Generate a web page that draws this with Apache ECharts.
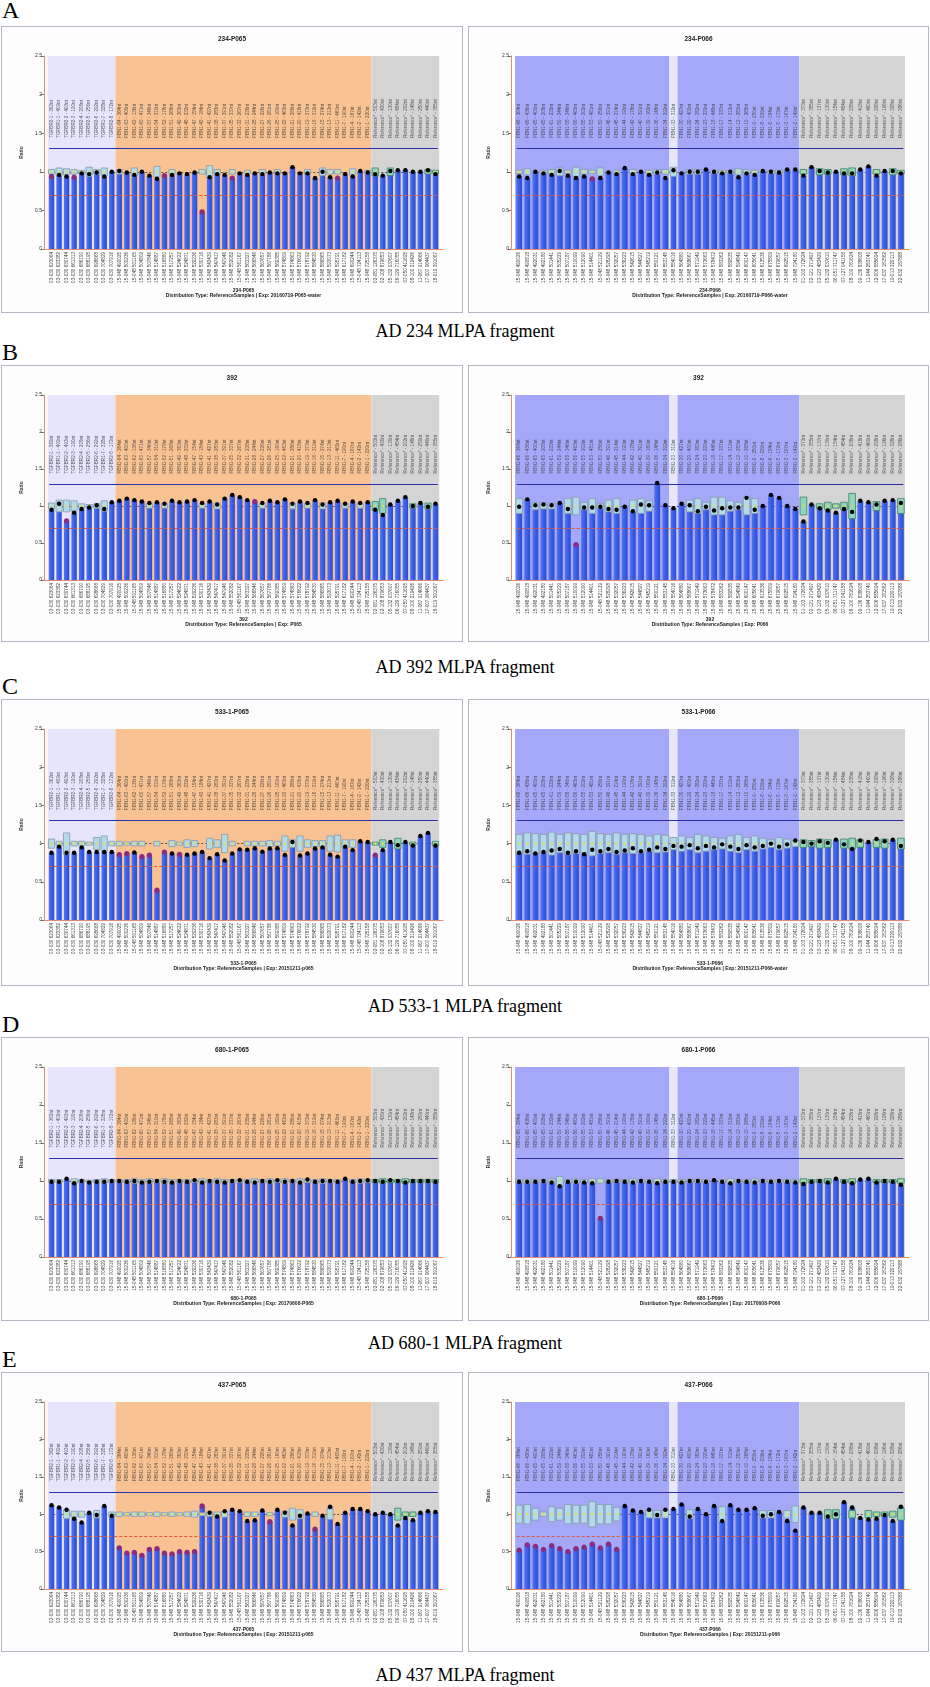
<!DOCTYPE html>
<html>
<head>
<meta charset="utf-8">
<script src="https://cdn.jsdelivr.net/npm/echarts@6/dist/echarts.min.js"></script>
<style>
  body { margin: 0; width: 930px; height: 1687px; background: #fff; position: relative; overflow: hidden; }
  .panel { position: absolute; border: 1px solid #b4b8c4; background: #fdfdfd; }
  .chart { width: 100%; height: 100%; }
  .letter { position: absolute; left: 2px; font: 24px/24px "Liberation Serif", serif; color: #000; }
  .cap { position: absolute; left: 0; width: 930px; text-align: center; font: 18px/18px "Liberation Serif", serif; color: #000; }
</style>
</head>
<body>
<script>
// probe names (top of plot) and chromosome positions (x axis)
const tgfbrTop = ['TGFBR2-1 - 362nt','TGFBR1-1 - 409nt','TGFBR2-2 - 493nt','TGFBR2-3 - 190nt','TGFBR2-4 - 208nt','TGFBR2-5 - 256nt','TGFBR2-6 - 292nt','TGFBR1-7 - 328nt','TGFBR2-8 - 172nt']
const fbnTop065 = ['FBN1-64 - 364nt','FBN1-63 - 400nt','FBN1-62 - 136nt','FBN1-60 - 471nt','FBN1-57 - 346nt','FBN1-54 - 310nt','FBN1-52 - 178nt','FBN1-51 - 268nt','FBN1-49 - 363nt','FBN1-48 - 232nt','FBN1-47 - 154nt','FBN1-43 - 184nt','FBN1-41 - 427nt','FBN1-38 - 283nt','FBN1-37 - 391nt','FBN1-35 - 337nt','FBN1-32 - 267nt','FBN1-31 - 238nt','FBN1-28 - 244nt','FBN1-27 - 226nt','FBN1-26 - 281nt','FBN1-25 - 160nt','FBN1-22 - 463nt','FBN1-21 - 286nt','FBN1-20 - 418nt','FBN1-19 - 373nt','FBN1-16 - 319nt','FBN1-15 - 274nt','FBN1-13 - 213nt','FBN1-11 - 460nt','FBN1-7 - 190nt','FBN1-4 - 167nt','FBN1-2 - 142nt','FBN1-1 - 220nt']
const refTop065 = ['Reference* - 503nt','Reference* - 430nt','Reference* - 130nt','Reference* - 454nt','Reference* - 202nt','Reference* - 148nt','Reference* - 250nt','Reference* - 440nt','Reference* - 355nt']

const tgfbrPos = ['03-030 623064','03-030 623382','03-030 630744','03-030 661313','03-030 686790','03-030 688195','03-030 698668','03-030 704829','03-030 707916']
const fbnPos065 = ['15-048 490025','15-048 500236','15-048 501165','15-048 504809','15-048 507846','15-048 514887','15-048 516880','15-048 517257','15-048 524622','15-048 524871','15-048 529236','15-048 530716','15-048 543439','15-048 547417','15-048 547946','15-048 552082','15-048 561167','15-048 563327','15-048 566846','15-048 567657','15-048 567786','15-048 569385','15-048 574809','15-048 574863','15-048 576622','15-048 578792','15-048 584530','15-048 586865','15-048 593073','15-048 595791','15-048 617182','15-048 690244','15-048 724113','15-048 725158']
const refPos065 = ['02-081 126375','02-108 879653','05-132 037607','06-129 716055','07-050 411695','08-100 219426','11-067 914666','17-007 064437','18-019 391067']

const fbnTopA066 = ['FBN1-66 - 364nt','FBN1-66 - 436nt','FBN1-65 - 400nt','FBN1-65 - 208nt','FBN1-61 - 232nt','FBN1-59 - 244nt','FBN1-58 - 346nt','FBN1-56 - 463nt','FBN1-55 - 202nt','FBN1-53 - 481nt','FBN1-50 - 256nt','FBN1-46 - 391nt','FBN1-45 - 214nt','FBN1-44 - 190nt','FBN1-42 - 178nt','FBN1-40 - 391nt','FBN1-39 - 160nt','FBN1-36 - 148nt','FBN1-34 - 292nt']
const fbnTopB066 = ['FBN1-33 - 319nt']
const fbnTopC066 = ['FBN1-30 - 427nt','FBN1-29 - 400nt','FBN1-24 - 382nt','FBN1-23 - 229nt','FBN1-18 - 445nt','FBN1-17 - 337nt','FBN1-14 - 319nt','FBN1-12 - 283nt','FBN1-10 - 268nt','FBN1-9 - 250nt','FBN1-8 - 229nt','FBN1-6 - 184nt','FBN1-5 - 172nt','FBN1-3 - 167nt','FBN1-2 - 142nt']
const refTop066 = ['Reference* - 373nt','Reference* - 355nt','Reference* - 137nt','Reference* - 130nt','Reference* - 154nt','Reference* - 454nt','Reference* - 238nt','Reference* - 418nt','Reference* - 460nt','Reference* - 298nt','Reference* - 196nt','Reference* - 328nt','Reference* - 286nt']

const fbnPos066 = ['15-048 490026','15-048 490818','15-048 492031','15-048 492180','15-048 501441','15-048 505229','15-048 507187','15-048 510099','15-048 512090','15-048 514401','15-048 521129','15-048 528298','15-048 532057','15-048 536223','15-048 542615','15-048 544827','15-048 545219','15-048 550121','15-048 553145','15-048 554016','15-048 564880','15-048 568667','15-048 571949','15-048 573663','15-048 578472','15-048 583262','15-048 589535','15-048 594849','15-048 600147','15-048 605641','15-048 613536','15-048 675809','15-048 679657','15-048 692515','15-048 724180']
const refPos066 = ['01-103 172624','02-121 271497','03-123 483429','05-132 037610','06-051 711747','07-127 041158','08-100 781624','09-136 838608','11-044 253740','12-006 585694','17-037 181562','19-013 229113','22-032 187888']

// ratios (bar height), half height of the reference box, abnormal probes (purple)
const ratioA065 = [0.94,0.96,0.94,0.93,0.98,0.97,0.99,0.94,1.00, 1.01,0.99,0.96,1.00,0.95,0.91,0.95,0.96,0.98,0.97,0.99,0.48,0.93,0.97,0.96,0.92,0.98,0.96,0.98,0.97,0.99,0.98,0.98,1.06,0.98,0.98,0.92,1.00,0.93,0.92,0.97,0.94,1.01,0.99, 0.97,0.95,1.01,1.02,1.02,1.00,1.00,1.02,0.97]
const boxA065 = [0.03,0.05,0.04,0.03,0.02,0.06,0.03,0.05,0, 0.03,0,0.05,0,0,0.07,0,0.03,0,0,0,0.03,0.08,0.03,0,0.03,0,0.02,0,0.03,0,0.03,0,0,0,0.03,0,0.05,0.03,0.03,0,0.04,0,0.02, 0.05,0,0.05,0,0,0,0,0.03,0.02]
const hitA065 = [0,3,15,20,24,38]
const ratioA066 = [0.94,0.92,1.00,0.98,0.96,1.01,0.95,0.92,0.94,0.91,0.92,0.99,0.97,1.05,0.97,1.00,0.96,0.99,0.92, 1.02, 0.98,1.00,1.00,1.03,1.00,0.98,1.00,0.93,0.98,0.96,1.01,1.00,0.99,1.03,1.03, 0.95,1.06,1.01,0.99,1.00,0.98,0.98,1.03,1.07,0.95,1.01,1.01,0.98]
const boxA066 = [0.02,0.04,0,0.02,0.03,0.05,0.02,0.06,0.03,0.02,0.05,0,0.02,0,0.03,0,0.02,0.03,0.03, 0.06, 0,0.03,0.03,0,0.02,0.02,0.02,0.04,0.03,0.02,0,0.02,0.02,0,0, 0.03,0,0.04,0.03,0,0.04,0.05,0,0,0.03,0,0.04,0.02]
const hitA066 = [9]

const ratioB065 = [0.95,1.03,0.80,0.91,0.96,0.98,1.01,0.96,1.05, 1.07,1.10,1.08,1.06,1.04,1.05,1.03,1.07,1.05,1.06,1.08,1.04,1.06,1.02,1.10,1.15,1.12,1.08,1.06,1.04,1.07,1.05,1.09,1.03,1.06,1.04,1.08,1.02,1.05,1.07,1.03,1.06,1.04,1.05, 0.95,0.88,1.02,1.07,1.12,1.00,1.04,0.99,1.03]
const boxB065 = [0.04,0.08,0.08,0.07,0.03,0.02,0.03,0.07,0, 0,0,0,0,0.03,0,0.03,0,0,0,0,0.03,0,0.04,0,0,0,0,0,0.03,0,0,0,0.04,0,0.03,0,0.04,0,0,0.03,0,0.03,0, 0.06,0.1,0,0,0,0.03,0,0.04,0]
const hitB065 = [2,27]
const ratioB066 = [0.99,1.09,1.01,1.02,1.01,1.04,0.96,0.48,0.98,0.98,0.99,0.96,0.95,0.99,0.93,1.02,1.01,1.31,1.01, 0.97, 1.03,1.01,0.93,0.99,0.94,0.97,0.98,0.98,1.11,0.95,1.00,1.15,1.11,1.00,0.96, 0.79,1.02,0.97,0.94,0.91,0.96,0.92,1.07,1.05,1.02,1.07,1.08,1.04]
const boxB066 = [0.1,0,0.05,0.04,0.04,0,0.1,0.12,0.05,0.1,0.03,0.08,0.1,0,0.08,0.1,0.07,0,0, 0, 0,0.08,0.1,0.05,0.12,0.12,0.07,0.05,0.12,0.1,0,0,0,0,0, 0.12,0,0.03,0.05,0.03,0.05,0.17,0,0,0.06,0,0,0.1]
const hitB066 = [7]

const ratioC065 = [0.88,0.96,0.88,0.88,0.95,0.89,0.89,0.89,0.89, 0.855,0.87,0.885,0.83,0.85,0.39,0.89,0.87,0.86,0.855,0.87,0.89,0.81,0.86,0.78,0.87,0.925,0.92,0.94,0.895,0.935,0.94,0.85,1.02,0.845,0.87,0.935,0.95,0.855,0.83,0.96,0.915,1.03,1.02, 0.85,0.915,1.02,0.98,1.02,0.975,1.10,1.14,0.975]
const boxC065 = [0.06,0.03,0.14,0.03,0.03,0.02,0.08,0.1,0.03, 0.03,0.02,0.03,0.03,0,0.03,0,0.04,0.02,0.05,0.04,0,0.07,0.05,0.12,0.03,0,0.03,0.03,0.03,0.04,0.03,0.1,0.05,0.1,0.05,0.04,0.04,0.1,0.11,0.05,0.05,0,0, 0.02,0.05,0,0.07,0,0.02,0,0,0.03]
const hitC065 = [9,10,12,13,14,15,17,43]
const ratioC066 = [0.88,0.90,0.87,0.89,0.91,0.93,0.88,0.90,0.86,0.92,0.90,0.93,0.89,0.91,0.94,0.90,0.92,0.95,0.93, 0.97, 0.96,0.98,0.94,0.97,0.95,0.99,0.96,0.93,0.98,0.95,0.97,1.00,0.96,0.99,1.04, 1.02,1.00,1.03,1.01,1.05,0.99,0.93,1.04,1.02,1.06,1.03,1.05,0.97]
const boxC066 = [0.12,0.14,0.13,0.12,0.15,0.12,0.14,0.13,0.12,0.16,0.13,0.12,0.14,0.12,0.13,0.12,0.1,0.12,0.11, 0.08, 0.1,0.08,0.12,0.1,0.08,0.07,0.1,0.12,0.08,0.1,0.07,0.05,0.08,0.06,0.04, 0.05,0.04,0.06,0.05,0,0.06,0.07,0.05,0,0.05,0.06,0,0.07]
const hitC066 = []

const ratioD065 = [0.99,0.99,1.03,0.97,1.00,0.98,0.99,0.99,1.00, 1.00,0.99,1.00,0.98,0.99,1.00,0.99,0.98,1.00,0.99,1.01,0.98,1.00,0.99,0.98,1.00,1.01,0.99,0.98,1.00,0.99,1.01,0.99,1.00,0.98,1.02,0.99,1.00,1.00,0.99,1.03,0.99,1.00,1.01, 1.00,0.99,1.01,1.00,0.98,1.00,1.00,1.00,0.99]
const boxD065 = [0.02,0.02,0,0.03,0.02,0.01,0.02,0.03,0.02, 0.02,0.02,0.03,0.02,0.03,0.02,0.03,0.02,0.02,0.02,0.02,0.03,0.02,0.03,0.02,0.02,0.02,0.02,0.03,0.02,0.03,0.02,0.03,0.02,0.03,0.02,0.02,0.03,0.02,0.02,0,0.02,0.03,0.02, 0.02,0.03,0.02,0.02,0.03,0.02,0.02,0.02,0.02]
const hitD065 = []
const ratioD066 = [0.99,0.99,0.99,1.00,0.98,0.93,0.99,0.99,0.98,0.97,0.51,0.99,1.00,0.99,0.98,1.00,0.99,0.97,0.99, 0.99, 0.98,1.00,1.00,0.99,1.01,0.99,0.97,1.00,0.99,0.98,1.00,0.99,1.00,0.99,0.98, 0.96,0.99,1.00,0.98,1.03,0.99,0.97,1.02,1.03,0.98,1.00,0.99,0.95]
const boxD066 = [0.02,0.03,0.02,0.02,0.03,0.06,0.02,0.03,0.02,0.03,0.03,0.02,0.02,0.02,0.03,0.02,0.02,0.03,0.02, 0.02, 0.02,0.02,0.02,0.02,0,0.02,0.03,0.02,0.02,0.03,0.02,0.02,0.02,0.02,0.02, 0.03,0.02,0.02,0.03,0,0.02,0.03,0,0,0.02,0.02,0.02,0.03]
const hitD066 = [10]

const ratioE065 = [1.12,1.09,1.06,0.94,0.89,1.02,0.99,1.11,0.98, 0.55,0.48,0.49,0.45,0.53,0.54,0.48,0.47,0.50,0.49,0.50,1.11,1.02,0.97,1.04,1.06,1.04,0.91,0.92,1.05,0.90,1.06,1.02,0.85,0.98,1.01,0.80,0.98,1.10,0.87,1.02,1.07,1.07,1.04, 1.00,1.02,1.00,0.85,0.95,0.92,1.02,1.04,1.03]
const boxE065 = [0,0,0.06,0.04,0.04,0,0.05,0,0.03, 0.03,0.02,0.03,0.03,0.02,0.03,0.02,0.03,0.02,0.03,0.04,0.02,0.03,0.03,0.04,0,0,0.03,0.03,0,0.02,0,0.04,0.08,0.06,0,0.03,0,0.07,0,0,0,0,0, 0,0,0,0.08,0.03,0.03,0,0,0]
const hitE065 = [9,10,11,12,13,14,15,16,17,18,19,20,29,35]
const ratioE066 = [0.52,0.59,0.57,0.53,0.58,0.54,0.50,0.54,0.56,0.60,0.55,0.60,0.53,1.11,1.05,1.03,1.06,0.99,1.06, 1.07, 1.13,0.97,1.07,1.00,1.11,0.91,1.12,1.06,1.06,1.08,0.98,1.00,1.03,0.91,0.78, 1.09,1.02,1.02,0.97,1.00,1.16,1.09,0.95,0.93,0.94,0.99,0.91,1.10]
const boxE066 = [0.12,0.13,0.08,0.03,0.1,0.08,0.13,0.12,0.12,0.17,0.13,0.13,0.09,0,0,0,0.05,0.05,0.05, 0, 0,0.06,0,0,0,0.1,0,0,0,0,0.05,0.05,0,0.05,0.11, 0,0,0,0.06,0.06,0,0.05,0,0.05,0.03,0.03,0.04,0.08]
const hitE066 = [0,1,2,3,4,5,6,7,8,9,10,11,12]

const top065 = tgfbrTop.concat(fbnTop065, refTop065)
const pos065 = tgfbrPos.concat(fbnPos065, refPos065)
const top066 = fbnTopA066.concat(fbnTopB066, fbnTopC066, refTop066)
const pos066 = fbnPos066.concat(refPos066)

// probe groups -> background bands [first, last]
function groupsOf(sizes) {
  const out = []
  let s = 0
  sizes.forEach(n => { out.push([s, s + n - 1]); s += n })
  return out
}
const kit = {
  P065: { top: top065, pos: pos065, groups: groupsOf([tgfbrTop.length, fbnTop065.length, refTop065.length]),
          colors: ['#e6e5fb', '#f8c293', '#d4d4d4'], refStart: tgfbrTop.length + fbnTop065.length },
  P066: { top: top066, pos: pos066, groups: groupsOf([fbnTopA066.length, 1, fbnTopC066.length, refTop066.length]),
          colors: ['#a5a8f8', '#e7e7f8', '#a5a8f8', '#d4d4d4'], refStart: top066.length - refTop066.length },
}

const rows = [
  { letter: 'A', top: 26, h: 287, gb: 63, letterY: 10, capY: 331, caption: 'AD 234 MLPA fragment',
    panels: [
      { kit: 'P065', title: '234-P065', exp: '20160719-P065-water', vals: ratioA065, box: boxA065, hits: hitA065 },
      { kit: 'P066', title: '234-P066', exp: '20160719-P066-water', vals: ratioA066, box: boxA066, hits: hitA066 }] },
  { letter: 'B', top: 365, h: 277, gb: 61, letterY: 352, capY: 667, caption: 'AD 392 MLPA fragment',
    panels: [
      { kit: 'P065', title: '392', exp: 'P065', vals: ratioB065, box: boxB065, hits: hitB065 },
      { kit: 'P066', title: '392', exp: 'P066', vals: ratioB066, box: boxB066, hits: hitB066 }] },
  { letter: 'C', top: 699, h: 287, gb: 65, letterY: 686, capY: 1006, caption: 'AD 533-1 MLPA fragment',
    panels: [
      { kit: 'P065', title: '533-1-P065', exp: '20151211-p065', vals: ratioC065, box: boxC065, hits: hitC065 },
      { kit: 'P066', title: '533-1-P066', exp: '20151211-P066-water', vals: ratioC066, box: boxC066, hits: hitC066 }] },
  { letter: 'D', top: 1037, h: 284, gb: 63, letterY: 1024, capY: 1343, caption: 'AD 680-1 MLPA fragment',
    panels: [
      { kit: 'P065', title: '680-1-P065', exp: '20170608-P065', vals: ratioD065, box: boxD065, hits: hitD065 },
      { kit: 'P066', title: '680-1-P066', exp: '20170608-P066', vals: ratioD066, box: boxD066, hits: hitD066 }] },
  { letter: 'E', top: 1372, h: 280, gb: 62, letterY: 1359, capY: 1675, caption: 'AD 437 MLPA fragment',
    panels: [
      { kit: 'P065', title: '437-P065', exp: '20151211-p065', vals: ratioE065, box: boxE065, hits: hitE065 },
      { kit: 'P066', title: '437-P066', exp: '20151211-p066', vals: ratioE066, box: boxE066, hits: hitE066 }] },
]

const FONT = '"Liberation Sans", Arial, sans-serif'
const GL = 42, GR = 19, GT = 29

function renderPanel(el, p, w, h, gb) {
  const k = kit[p.kit]
  const n = p.vals.length
  const catW = (w - GL - GR) / (n + 1)
  const chart = echarts.init(el, null, { renderer: 'canvas' })

  chart.setOption({
    animation: false,
    title: { text: p.title, left: 'center', top: 9, padding: 0,
      textStyle: { fontSize: 6.5, fontWeight: 'bold', color: '#222', fontFamily: FONT } },
    grid: { left: GL, right: GR, top: GT, bottom: gb },
    xAxis: {
      type: 'value', min: -1, max: n, interval: 1, splitLine: { show: false },
      axisLine: { onZero: false, lineStyle: { color: '#e48a78', width: 1 } },
      axisTick: { show: false },
      axisLabel: { rotate: 90, fontSize: 4.6, color: '#444', margin: 3, fontFamily: FONT,
        showMinLabel: true, showMaxLabel: true,
        formatter: v => k.pos[v] || '' },
    },
    yAxis: {
      type: 'value', min: 0, max: 2.5, interval: 0.5,
      name: 'Ratio', nameLocation: 'middle', nameGap: 16, nameRotate: 90,
      nameTextStyle: { fontSize: 5, fontWeight: 'bold', color: '#333', fontFamily: FONT },
      splitLine: { show: false },
      axisLine: { show: true, onZero: false, lineStyle: { color: '#e48a78' } },
      axisTick: { show: true, length: 3, lineStyle: { color: '#777' } },
      axisLabel: { fontSize: 5, color: '#333', margin: 2, fontFamily: FONT },
    },
    graphic: [
      { type: 'text', x: GL + (w - GL - GR) / 2, y: h - 21, silent: true,
        style: { text: p.title, font: 'bold 5px ' + FONT, fill: '#222', textAlign: 'center', align: 'center', textVerticalAlign: 'middle', verticalAlign: 'middle' } },
      { type: 'text', x: GL + (w - GL - GR) / 2, y: h - 16, silent: true,
        style: { text: 'Distribution Type: ReferenceSamples | Exp: ' + p.exp, font: 'bold 5px ' + FONT, fill: '#222', textAlign: 'center', align: 'center', textVerticalAlign: 'middle', verticalAlign: 'middle' } },
    ],
    series: [
      // probe group backgrounds
      {
        type: 'custom', z: 0, silent: true, data: k.groups,
        renderItem(params, api) {
          const a = api.coord([api.value(0) - 0.5, 2.5])
          const b = api.coord([api.value(1) + 0.5, 0])
          return { type: 'rect', shape: { x: a[0], y: a[1], width: b[0] - a[0], height: b[1] - a[1] },
            style: { fill: k.colors[params.dataIndex] } }
        },
        markLine: { silent: true, symbol: 'none', z: 1, label: { show: false },
          lineStyle: { color: '#333', width: 0.8, type: [2, 2] },
          data: [[{ coord: [-0.3, 1] }, { coord: [n - 0.7, 1] }]] },
      },
      {
        type: 'bar', z: 2, silent: true, barWidth: catW * 0.72,
        data: p.vals.map((v, i) => [i, v]),
        itemStyle: { color: new echarts.graphic.LinearGradient(0, 0, 1, 0, [
          { offset: 0, color: '#5474f2' }, { offset: 0.5, color: '#3b5ee6' }, { offset: 1, color: '#2c4cd0' }]) },
      },
      // reference sample range boxes around 1
      {
        type: 'custom', z: 3, silent: true,
        data: p.box.map((s, i) => [i, s, i >= k.refStart ? 1 : 0]).filter(d => d[1] > 0),
        renderItem(params, api) {
          const i = api.value(0), s = api.value(1), ref = api.value(2)
          const c = api.coord([i, 1])
          const bw = api.size([1, 0])[0] * 0.82
          const t = api.coord([i, 1 + s])[1], b = api.coord([i, 1 - s])[1]
          return { type: 'group', children: [
            { type: 'rect', shape: { x: c[0] - bw / 2, y: t, width: bw, height: b - t },
              style: { fill: ref ? '#92d5be' : '#afdbea', stroke: ref ? '#3a8566' : '#8a98a8', lineWidth: 0.8 } },
            { type: 'circle', shape: { cx: c[0], cy: c[1], r: 1.1 }, style: { fill: '#f1dc3a' } },
          ] }
        },
      },
      // measured ratio dots + thresholds
      {
        type: 'scatter', z: 5, silent: true,
        data: p.vals.map((v, i) => [i, v]),
        symbolSize: (v, prm) => p.hits.includes(prm.dataIndex) ? 5.2 : 4.4,
        itemStyle: { opacity: 1, color: prm => p.hits.includes(prm.dataIndex) ? '#8c2c7e' : '#000' },
        markLine: { silent: true, symbol: 'none', z: 4, label: { show: false },
          data: [
            [{ coord: [-0.3, 1.3], lineStyle: { color: '#2c30a8', width: 1.1, type: 'solid' } }, { coord: [n - 0.7, 1.3] }],
            [{ coord: [-0.3, 0.7], lineStyle: { color: '#e2583a', width: 1, type: [3, 2] } }, { coord: [n - 0.7, 0.7] }],
          ] },
      },
      // probe names written vertically inside the plot
      {
        type: 'scatter', z: 6, silent: true, symbolSize: 1,
        itemStyle: { color: 'transparent' },
        data: k.top.map((t, i) => [i, 1.44]),
        label: { show: true, position: 'inside', rotate: 90, align: 'left', verticalAlign: 'middle',
          fontSize: 4.6, color: '#333', fontFamily: FONT,
          formatter: prm => k.top[prm.dataIndex] },
      },
    ],
  })
  return chart
}

const PANEL_X = [{ left: 1, w: 462 }, { left: 468, w: 461 }]

rows.forEach(r => {
  const L = document.createElement('div')
  L.className = 'letter'
  L.style.top = (r.letterY - 12) + 'px'
  L.textContent = r.letter
  document.body.appendChild(L)

  r.panels.forEach((p, j) => {
    const box = document.createElement('div')
    box.className = 'panel'
    box.style.left = PANEL_X[j].left + 'px'
    box.style.top = r.top + 'px'
    box.style.width = (PANEL_X[j].w - 2) + 'px'
    box.style.height = (r.h - 2) + 'px'
    const c = document.createElement('div')
    c.className = 'chart'
    box.appendChild(c)
    document.body.appendChild(box)
    renderPanel(c, p, PANEL_X[j].w - 2, r.h - 2, r.gb)
  })

  const cap = document.createElement('div')
  cap.className = 'cap'
  cap.style.top = (r.capY - 9) + 'px'
  cap.textContent = r.caption
  document.body.appendChild(cap)
})
</script>
</body>
</html>
